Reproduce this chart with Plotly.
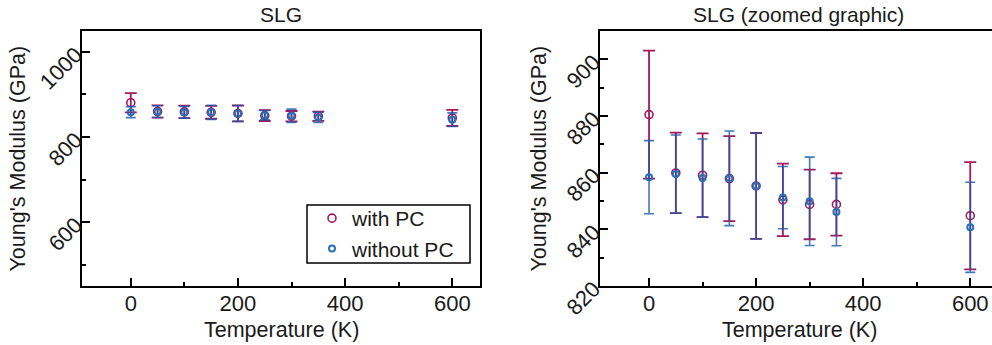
import plotly.graph_objects as go
from plotly.subplots import make_subplots

temperature = [0, 50, 100, 150, 200, 250, 300, 350, 600]
with_pc = [880.5, 859.9, 859.1, 857.9, 855.3, 850.4, 848.8, 848.8, 844.8]
with_pc_err = [22.6, 14.2, 14.8, 15.0, 18.7, 12.8, 12.3, 11.0, 18.9]
without_pc = [858.4, 859.5, 858.1, 858.0, 855.3, 851.2, 849.9, 846.1, 840.7]
without_pc_err = [12.9, 13.8, 13.8, 16.7, 18.7, 11.0, 15.6, 11.9, 15.9]

RED = "#A3195B"
BLUE = "#2B70B4"
BLUE_ERR = "rgba(25,92,172,0.82)"
FONT = "Liberation Sans, Arial, sans-serif"
TXT = "#1a1a1a"

W, H = 992, 345
TOP_PX, BOT_PX = 31, 286
T = TOP_PX
B = H - BOT_PX
PH = H - T - B


def px_x(x):
    return x / W


def px_y(y):
    return (BOT_PX - y) / PH


fig = make_subplots(rows=1, cols=2, horizontal_spacing=0.0)

for col in (1, 2):
    show = col == 1
    fig.add_trace(go.Scatter(
        x=temperature, y=with_pc, mode="markers", name="with PC",
        showlegend=show, legendgroup="a",
        marker=dict(symbol="circle-open", size=8, color=RED, line=dict(width=1.6, color=RED)),
        error_y=dict(type="data", array=with_pc_err, visible=True, color=RED, thickness=1.8, width=6),
    ), row=1, col=col)
    fig.add_trace(go.Scatter(
        x=temperature, y=without_pc, mode="markers", name="without PC",
        showlegend=show, legendgroup="b",
        marker=dict(symbol="circle-open", size=6, color=BLUE, line=dict(width=2.0, color=BLUE)),
        error_y=dict(type="data", array=without_pc_err, visible=True, color=BLUE_ERR, thickness=1.6, width=5),
    ), row=1, col=col)

axis_common = dict(
    showline=True, linecolor="black", linewidth=1.5,
    ticks="inside", ticklen=8, tickwidth=1.5, tickcolor="black",
    showgrid=False, zeroline=False,
    tickfont=dict(family=FONT, size=22, color=TXT),
    automargin=False,
)

fig.update_xaxes(**axis_common, tickvals=[0, 200, 400, 600], ticklabelstandoff=-3,
                 minor=dict(ticks="inside", ticklen=4, tickwidth=1.5, tickcolor="black", dtick=100, tick0=0))
fig.update_yaxes(**axis_common, tickangle=-45)

fig.update_layout(
    xaxis=dict(domain=[px_x(82), px_x(480)], range=[-91, 651.7], mirror=True),
    yaxis=dict(range=[450, 1049], tickvals=[600, 800, 1000], mirror=True,
               minor=dict(ticks="inside", ticklen=4, tickwidth=1.5, tickcolor="black", dtick=100, tick0=0)),
    xaxis2=dict(domain=[px_x(600), 1.0], range=[-91.6, 640.6], mirror=True),
    yaxis2=dict(range=[820, 910], tickvals=[820, 840, 860, 880, 900], mirror=False,
                minor=dict(ticks="inside", ticklen=4, tickwidth=1.5, tickcolor="black", dtick=10, tick0=820)),
)

annos = [
    dict(text="SLG", x=px_x(281), y=px_y(14), size=21),
    dict(text="SLG (zoomed graphic)", x=px_x(798.5), y=px_y(14), size=21),
    dict(text="Temperature (K)", x=px_x(281), y=px_y(330), size=21.5),
    dict(text="Temperature (K)", x=px_x(799), y=px_y(330), size=21.5),
]
for a in annos:
    fig.add_annotation(text=a["text"], x=a["x"], y=a["y"], xref="paper", yref="paper",
                       xanchor="center", yanchor="middle", showarrow=False,
                       font=dict(family=FONT, size=a["size"], color=TXT))
for xc in (17, 538):
    fig.add_annotation(text="Young's Modulus (GPa)", x=px_x(xc), y=px_y(158.5), xref="paper", yref="paper",
                       xanchor="center", yanchor="middle", showarrow=False, textangle=-90,
                       font=dict(family=FONT, size=21.5, color=TXT))

# legend frame
fig.add_shape(type="rect", xref="paper", yref="paper",
              x0=px_x(307), x1=px_x(470), y0=px_y(263), y1=px_y(205),
              line=dict(color="black", width=1.5), fillcolor="white", layer="below")

fig.update_layout(
    width=W, height=H,
    margin=dict(l=0, r=0, t=T, b=B, pad=0),
    paper_bgcolor="white", plot_bgcolor="white",
    font=dict(family=FONT, color=TXT),
    legend=dict(x=px_x(312), y=px_y(198), xanchor="left", yanchor="top",
                borderwidth=0, bgcolor="rgba(0,0,0,0)",
                font=dict(family=FONT, size=21, color=TXT),
                itemwidth=30, tracegroupgap=0),
)

fig.write_html("out.html", config={"displayModeBar": False},
               post_script="document.body.style.margin='0';document.body.style.overflow='hidden';")
